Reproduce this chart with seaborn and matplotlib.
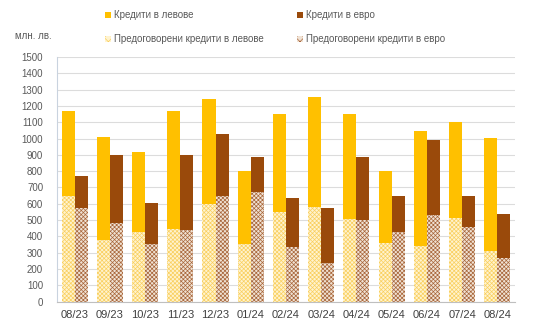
import matplotlib
matplotlib.use("Agg")
import matplotlib.pyplot as plt
from matplotlib.patches import Patch
import seaborn as sns
import pandas as pd

months = ["08/23", "09/23", "10/23", "11/23", "12/23", "01/24", "02/24",
          "03/24", "04/24", "05/24", "06/24", "07/24", "08/24"]
loans_bgn = [1170, 1010, 915, 1170, 1240, 800, 1150, 1255, 1150, 800, 1045, 1100, 1005]
loans_eur = [770, 900, 605, 900, 1025, 890, 635, 575, 885, 645, 990, 650, 540]
reneg_bgn = [650, 375, 430, 445, 600, 355, 550, 580, 505, 360, 340, 510, 310]
reneg_eur = [575, 485, 355, 440, 650, 675, 335, 235, 500, 430, 530, 460, 270]

lbl_bgn = "Кредити в левове"
lbl_eur = "Кредити в евро"
lbl_rbgn = "Предоговорени кредити в левове"
lbl_reur = "Предоговорени кредити в евро"

total = pd.DataFrame({
    "month": months * 2,
    "value": loans_bgn + loans_eur,
    "cur": ["BGN"] * len(months) + ["EUR"] * len(months),
})
reneg = pd.DataFrame({
    "month": months * 2,
    "value": reneg_bgn + reneg_eur,
    "cur": ["BGN"] * len(months) + ["EUR"] * len(months),
})

YELLOW = "#FFC000"
BROWN = "#9A4A0B"
PALE_Y = "#FFF3CF"
PALE_B = "#F0E2D4"
HATCH_Y = "#F9CF5E"
HATCH_B = "#A8663A"
HATCH = "xxxxxxxx"

sns.set_style("white")
plt.rcParams["font.family"] = ["Liberation Sans", "DejaVu Sans"]
plt.rcParams["hatch.linewidth"] = 0.5

fig = plt.figure(figsize=(5.38, 3.24), dpi=100)
ax = fig.add_axes([0.106, 0.069, 0.851, 0.755])

sns.barplot(data=total, x="month", y="value", hue="cur", order=months,
            hue_order=["BGN", "EUR"], palette=[YELLOW, BROWN], width=0.74,
            errorbar=None, legend=False, linewidth=0, saturation=1, ax=ax)
sns.barplot(data=reneg, x="month", y="value", hue="cur", order=months,
            hue_order=["BGN", "EUR"], palette=[PALE_Y, PALE_B], width=0.74,
            errorbar=None, legend=False, linewidth=0, saturation=1, ax=ax)

for cont, hcol in zip(ax.containers[2:4], [HATCH_Y, HATCH_B]):
    for p in cont:
        p.set_hatch(HATCH)
        p.set_edgecolor(hcol)
        p.set_linewidth(0)

ax.set_ylim(0, 1500)
ax.set_xlim(-0.5, len(months) - 0.5)
ax.set_yticks(range(0, 1501, 100))
ax.yaxis.grid(True, color="#DCDCDC", linewidth=0.8)
ax.set_axisbelow(True)
ax.set_xlabel("")
ax.set_ylabel("")

for s in ["top", "right"]:
    ax.spines[s].set_visible(False)
ax.spines["left"].set_color("#C9D3DF")
ax.spines["left"].set_linewidth(0.8)
ax.spines["bottom"].set_color("#BFBFBF")
ax.spines["bottom"].set_linewidth(0.8)

ax.tick_params(axis="y", length=0, pad=10, labelsize=7, labelcolor="#595959")
ax.tick_params(axis="x", length=0, pad=6, labelsize=8, labelcolor="#404040")
ax.set_xticks(range(len(months)))
ax.set_xticklabels(months)
# separator ticks between month groups
ax.set_xticks([i - 0.5 for i in range(len(months) + 1)], minor=True)
ax.tick_params(axis="x", which="minor", length=4, color="#BFBFBF", width=0.8)

fig.text(0.028, 0.889, "млн. лв.", fontsize=7, color="#595959", va="center")

handles = [
    Patch(facecolor=YELLOW, edgecolor=YELLOW, linewidth=0, label=lbl_bgn),
    Patch(facecolor=PALE_Y, edgecolor=HATCH_Y, hatch="xxxx", linewidth=0, label=lbl_rbgn),
    Patch(facecolor=BROWN, edgecolor=BROWN, linewidth=0, label=lbl_eur),
    Patch(facecolor=PALE_B, edgecolor=HATCH_B, hatch="xxxx", linewidth=0, label=lbl_reur),
]
fig.legend(handles=handles, ncol=2, loc="upper left",
           bbox_to_anchor=(0.183, 0.99), frameon=False, fontsize=7,
           labelcolor="#595959", handlelength=0.6, handleheight=0.6,
           handletextpad=0.25, columnspacing=3.5, labelspacing=1.45,
           borderaxespad=0.3)

fig.savefig("out.png", dpi=100)
